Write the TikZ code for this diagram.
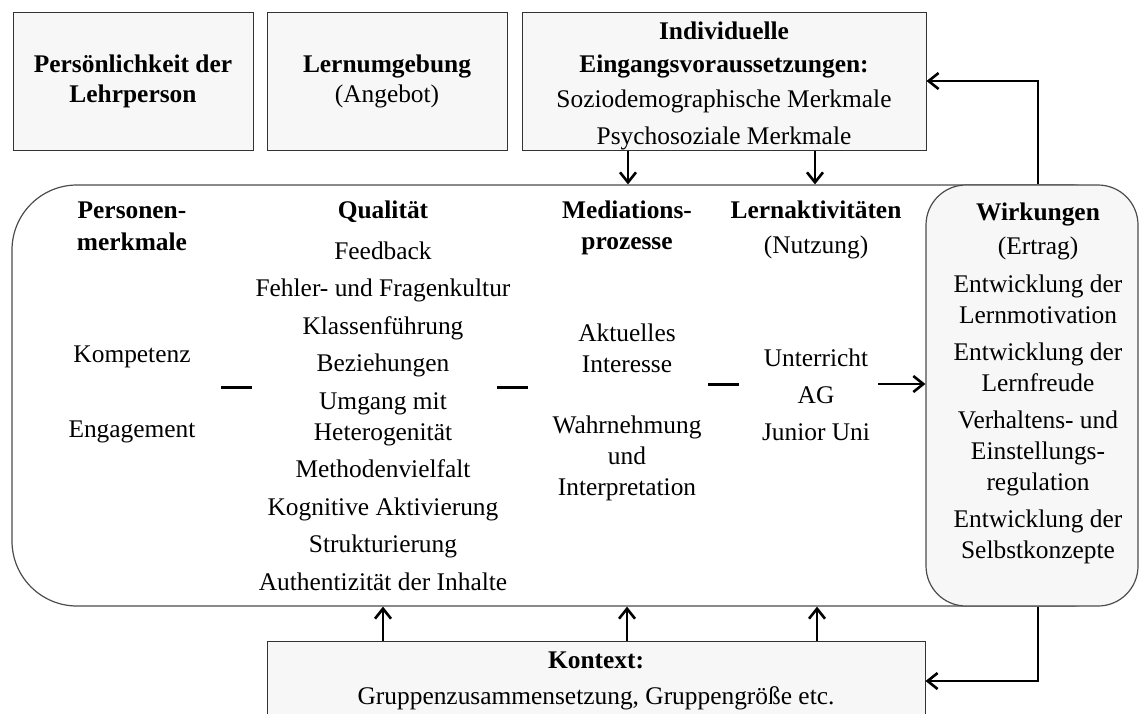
\documentclass[tikz,border=0pt]{standalone}
\usepackage{fontspec}
\setmainfont{Liberation Serif}
\usetikzlibrary{arrows.meta}
\begin{document}
\begin{tikzpicture}[x=0.5pt,y=-0.5pt,
  txt/.style={inner sep=0pt, align=center, font=\fontsize{12.7pt}{15.5pt}\selectfont},
  panel/.style={draw=black!80, line width=0.5pt, fill=black!3, inner sep=0pt},
  arr/.style={line width=1.3pt, -{Straight Barb[length=5pt,width=8pt]}},
  link/.style={line width=1.5pt},
]
\useasboundingbox (0,0) rectangle (1139,713);
\clip (0,0) rectangle (1139,713);

% upper boxes
\node[panel, minimum width=120pt, minimum height=69pt, txt,
      font=\fontsize{12.7pt}{15pt}\selectfont\bfseries] (pers) at (133,81)
      {Persönlichkeit der\\Lehrperson};
\node[panel, minimum width=120pt, minimum height=69pt, txt,
      font=\fontsize{12.7pt}{15pt}\selectfont] (lern) at (387,81)
      {\textbf{Lernumgebung}\\(Angebot)};
\node[panel, minimum width=202pt, minimum height=69pt] (ein) at (724,81) {};
\node[txt, anchor=north] (eintxt) at (724,21)
      {\textbf{Individuelle}\\[1pt]\textbf{Eingangsvoraussetzungen:}\\[2pt]Soziodemographische Merkmale\\[3pt]Psychosoziale Merkmale};

% central process frame and outcome panel
\node[draw=black!70, line width=0.6pt, rounded corners=32.5pt, minimum width=562pt,
      minimum height=210.5pt, inner sep=0pt] (proc) at (574,395.5) {};
\node[panel, draw=black!70, line width=0.6pt, rounded corners=20pt, minimum width=106pt,
      minimum height=210.5pt] (wirk) at (1032,395.5) {};

% context box (runs past the lower edge)
\node[panel, minimum width=329pt, minimum height=60pt] (kon) at (596,701) {};

% column texts
\node[txt, anchor=north, font=\fontsize{12.7pt}{16pt}\selectfont\bfseries] (perstitle) at (132,201) {Personen-\\merkmale};
\node[txt, anchor=base] (komp) at (132,362) {Kompetenz};
\node[txt, anchor=base] (enga) at (132,437) {Engagement};

\node[txt, anchor=base, font=\fontsize{12.7pt}{15.5pt}\selectfont\bfseries] (qualtitle) at (383,218) {Qualität};
\node[txt, anchor=north] (qual) at (383,241)
      {Feedback\\[3.25pt]Fehler- und Fragenkultur\\[3.25pt]Klassenführung\\[3.25pt]Beziehungen\\[3.25pt]Umgang mit\\Heterogenität\\[3.25pt]Methodenvielfalt\\[3.25pt]Kognitive Aktivierung\\[3.25pt]Strukturierung\\[3.25pt]Authentizität der Inhalte};

\node[txt, anchor=north, font=\fontsize{12.7pt}{15.5pt}\selectfont\bfseries] (medtitle) at (627,200) {Mediations-\\prozesse};
\node[txt, anchor=north] (akt) at (627,323) {Aktuelles\\Interesse};
\node[txt, anchor=north] (wahr) at (627,415) {Wahrnehmung\\und\\Interpretation};

\node[txt, anchor=north] (latitle) at (816,200) {\textbf{Lernaktivitäten}\\[2pt](Nutzung)};
\node[txt, anchor=north] (la) at (816,348) {Unterricht\\[3pt]AG\\[3pt]Junior Uni};

\node[txt, anchor=north] (wirktxt) at (1038,202)
      {\textbf{Wirkungen}\\[1.5pt](Ertrag)\\[3.5pt]Entwicklung der\\Lernmotivation\\[3pt]Entwicklung der\\Lernfreude\\[3pt]Verhaltens- und\\Einstellungs-\\regulation\\[3pt]Entwicklung der\\Selbstkonzepte};

\node[txt, anchor=north] (kontxt) at (596,651)
      {\textbf{Kontext:}\\[2.5pt]Gruppenzusammensetzung, Gruppengröße etc.};

% links between the columns
\coordinate (d1a) at (221,387); \coordinate (d1b) at (252,387);
\coordinate (d2a) at (497,387); \coordinate (d2b) at (528,387);
\coordinate (d3a) at (708,384); \coordinate (d3b) at (739,384);
\draw[link] (d1a) -- (d1b);
\draw[link] (d2a) -- (d2b);
\draw[link] (d3a) -- (d3b);
\coordinate (lx) at (878,384);
\draw[arr] (lx) -- (wirk.west |- lx);

% input arrows from above
\coordinate (a1) at (628,0);
\coordinate (a2) at (815,0);
\draw[arr] (ein.south -| a1) -- (proc.north -| a1);
\draw[arr] (ein.south -| a2) -- (proc.north -| a2);

% feedback loops from the outcomes
\coordinate (fb) at (1038,0);
\coordinate (fy) at (0,681);
\draw[arr] (wirk.north -| fb) |- (ein.east);
\draw[arr] (wirk.south -| fb) |- (kon.east |- fy);

% context arrows
\coordinate (u1) at (383,0);
\coordinate (u2) at (627,0);
\coordinate (u3) at (817,0);
\draw[arr] (kon.north -| u1) -- (proc.south -| u1);
\draw[arr] (kon.north -| u2) -- (proc.south -| u2);
\draw[arr] (kon.north -| u3) -- (proc.south -| u3);
\end{tikzpicture}
\end{document}
